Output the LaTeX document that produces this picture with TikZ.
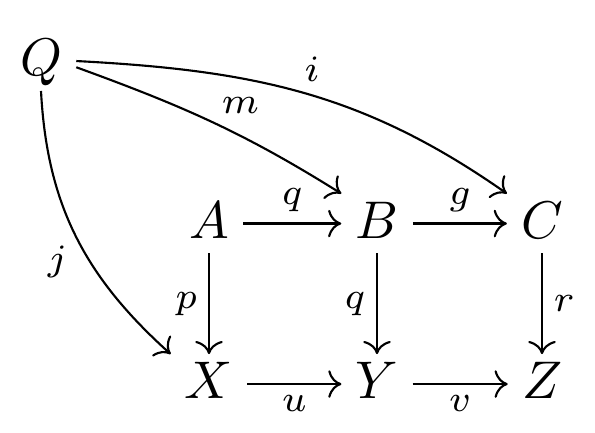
\documentclass[tikz,border=0pt]{standalone}
\usepackage{amsmath,amssymb}
\usetikzlibrary{arrows.meta}

\begin{document}
\begin{tikzpicture}[x=1.8868pt,y=1.8868pt,>={Computer Modern Rightarrow}]
    \tikzstyle{every node}+=[inner sep=2pt]
    \tikzstyle{obj}=[inner xsep=2.5pt, inner ysep=1.2pt, text height=7pt, text depth=1.5pt]
    \tikzstyle{lbl}=[inner sep=1.5pt]
    \useasboundingbox (0,0) rectangle (59.5,-43.2);
    \draw (4.1,-6.1) node [obj] (Q) {$Q$};
    \draw (20.9,-22.35) node [obj] (A) {$A$};
    \draw (37.7,-22.35) node [obj] (B) {$B$};
    \draw (54.2,-22.35) node [obj] (C) {$C$};
    \draw (20.9,-38.4) node [obj] (X) {$X$};
    \draw (37.7,-38.4) node [obj] (Y) {$Y$};
    \draw (54.2,-38.4) node [obj] (Z) {$Z$};
    \draw [->] (A) -- (B) node [midway, above] {$\scriptstyle q$};
    \draw [->] (B) -- (C) node [midway, above] {$\scriptstyle g$};
    \draw [->] (X) -- (Y) node [midway, below] {$\scriptstyle u$};
    \draw [->] (Y) -- (Z) node [midway, below] {$\scriptstyle v$};
    \draw [->] (A) -- (X) node [midway, left] {$\scriptstyle p$};
    \draw [->] (B) -- (Y) node [midway, left] {$\scriptstyle q$};
    \draw [->] (C) -- (Z) node [midway, right] {$\scriptstyle r$};
    \draw [->] (Q.east) to [out=-3, in=145] node [lbl, pos=0.48, above right] {$\scriptstyle i$} (C.north west);
    \draw [->] (Q.-10) to [out=-20, in=148] node [lbl, pos=0.5, above right] {$\scriptstyle m$} (B.north west);
    \draw [->] (Q.south) to [out=-87, in=138] node [lbl, pos=0.5, below left] {$\scriptstyle j$} (X.north west);
\end{tikzpicture}
\end{document}
